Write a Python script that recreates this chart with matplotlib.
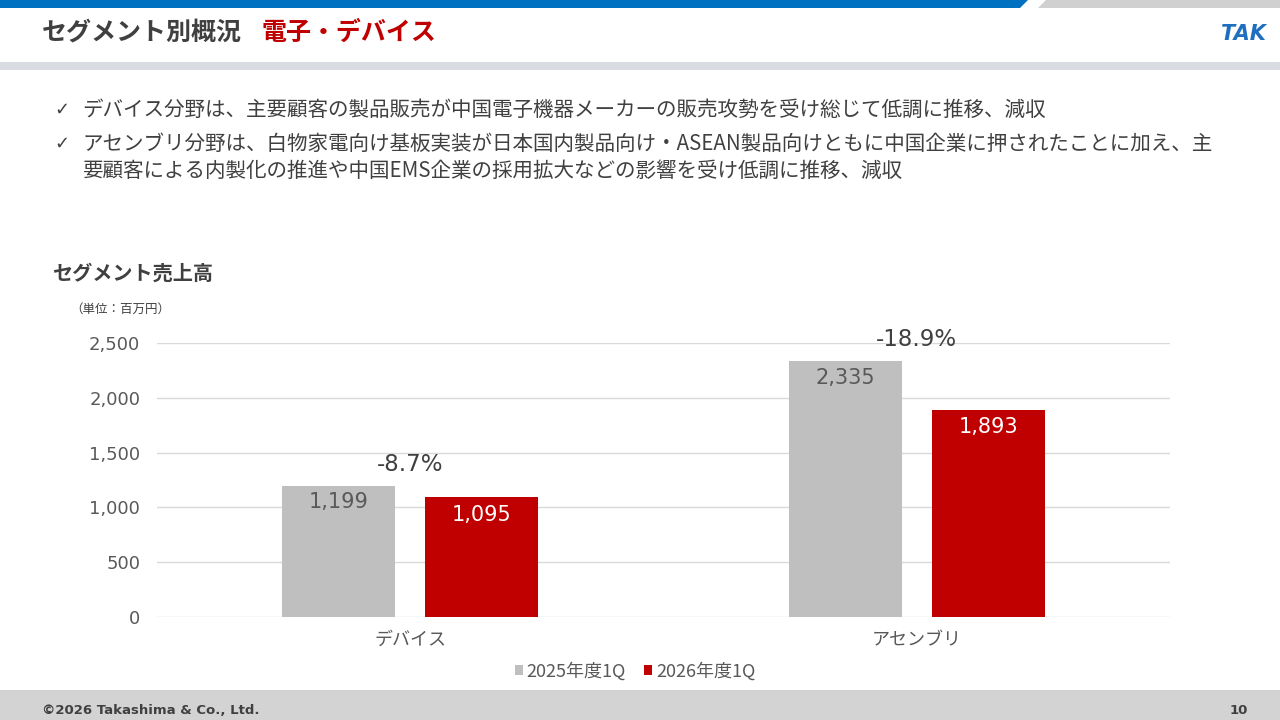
import matplotlib
matplotlib.use("Agg")
import matplotlib.pyplot as plt
import numpy as np
from matplotlib.patches import Rectangle, Polygon

plt.rcParams['font.family'] = ['Noto Sans CJK JP', 'DejaVu Sans']

categories = ['デバイス', 'アセンブリ']
series_names = ['2025年度1Q', '2026年度1Q']
sales_2025 = [1199, 2335]
sales_2026 = [1095, 1893]
change_labels = ['-8.7%', '-18.9%']
y_ticks = [0, 500, 1000, 1500, 2000, 2500]

bullets = [
    'デバイス分野は、主要顧客の製品販売が中国電子機器メーカーの販売攻勢を受け総じて低調に推移、減収',
    'アセンブリ分野は、白物家電向け基板実装が日本国内製品向け・ASEAN製品向けともに中国企業に押されたことに加え、主',
    '要顧客による内製化の推進や中国EMS企業の採用拡大などの影響を受け低調に推移、減収',
]

W, H = 1280, 720
gray = '#BFBFBF'
red = '#C00000'
text_gray = '#595959'
num_font = ['DejaVu Sans']

fig = plt.figure(figsize=(12.8, 7.2), dpi=100)
fig.patch.set_facecolor('white')

# page decoration in pixel coordinates
deco = fig.add_axes([0, 0, 1, 1])
deco.set_xlim(0, W)
deco.set_ylim(H, 0)
deco.axis('off')
deco.add_patch(Polygon([[0, 0], [1028, 0], [1020, 8], [0, 8]], color='#0070C0', lw=0))
deco.add_patch(Polygon([[1038, 8], [1046, 0], [1280, 0], [1280, 8]], color='#D0D0D0', lw=0))
deco.add_patch(Rectangle((0, 62), W, 8, color='#D9DCE3', lw=0))
deco.add_patch(Rectangle((0, 690), W, 30, color='#D3D3D3', lw=0))

deco.text(42, 33, 'セグメント別概況', fontsize=18, fontweight='bold', color='#404040', va='center')
deco.text(262, 33, '電子・デバイス', fontsize=18, fontweight='bold', color=red, va='center')
deco.text(1266, 34, 'TAK', fontsize=15, fontweight='bold', fontstyle='italic', color='#1F6FC0',
          va='center', ha='right', family='DejaVu Sans')

deco.text(54, 110, '✓', fontsize=13, color='#404040', va='center', family='DejaVu Sans')
deco.text(54, 144, '✓', fontsize=13, color='#404040', va='center', family='DejaVu Sans')
deco.text(82, 110, bullets[0], fontsize=14.8, color='#404040', va='center')
deco.text(82, 144, bullets[1], fontsize=14.8, color='#404040', va='center')
deco.text(82, 171, bullets[2], fontsize=14.8, color='#404040', va='center')

deco.text(52, 273, 'セグメント売上高', fontsize=14.5, fontweight='bold', color='#404040', va='center')
deco.text(70, 309, '（単位：百万円）', fontsize=9, color='#404040', va='center')

deco.text(42, 710, '©2026 Takashima & Co., Ltd.', fontsize=9.5, fontweight='bold', color='#404040',
          va='center', family=num_font)
deco.text(1248, 710, '10', fontsize=9.5, fontweight='bold', color='#404040', va='center', ha='right',
          family=num_font)

# chart
x0, x1 = 157, 1170
y0, y1 = 617, 343
ax = fig.add_axes([x0 / W, (H - y0) / H, (x1 - x0) / W, (y0 - y1) / H])
x = np.arange(len(categories))
bw = 0.223
off = 0.1415
b1 = ax.bar(x - off, sales_2025, bw, color=gray, label=series_names[0])
b2 = ax.bar(x + off, sales_2026, bw, color=red, label=series_names[1])
ax.set_xlim(-0.5, 1.5)
ax.set_ylim(0, 2500)
ax.set_yticks(y_ticks)
ax.set_yticklabels([f'{v:,}' for v in y_ticks], family=num_font)
ax.set_xticks(x)
ax.set_xticklabels(categories)
ax.grid(axis='y', color='#D9D9D9', lw=1)
ax.set_axisbelow(True)
for s in ax.spines.values():
    s.set_visible(False)
ax.tick_params(axis='y', length=0, labelsize=13, colors=text_gray, pad=12)
ax.tick_params(axis='x', length=0, labelsize=13, colors=text_gray, pad=10)

for rect, v in zip(b1, sales_2025):
    ax.text(rect.get_x() + rect.get_width() / 2, v - 60, f'{v:,}', ha='center', va='top',
            fontsize=15, color=text_gray, family=num_font)
for rect, v in zip(b2, sales_2026):
    ax.text(rect.get_x() + rect.get_width() / 2, v - 70, f'{v:,}', ha='center', va='top',
            fontsize=15, color='white', family=num_font)
for i, lab in enumerate(change_labels):
    ax.text(x[i], sales_2025[i] + 90, lab, ha='center', va='bottom', fontsize=16.5,
            color='#404040', family=num_font)

ax.legend(loc='upper center', bbox_to_anchor=(0.472, -0.105), ncol=2, frameon=False,
          fontsize=13, handlelength=0.45, handleheight=0.45, handletextpad=0.2,
          columnspacing=1.0, labelcolor=text_gray)

fig.savefig('out.png', dpi=100)
